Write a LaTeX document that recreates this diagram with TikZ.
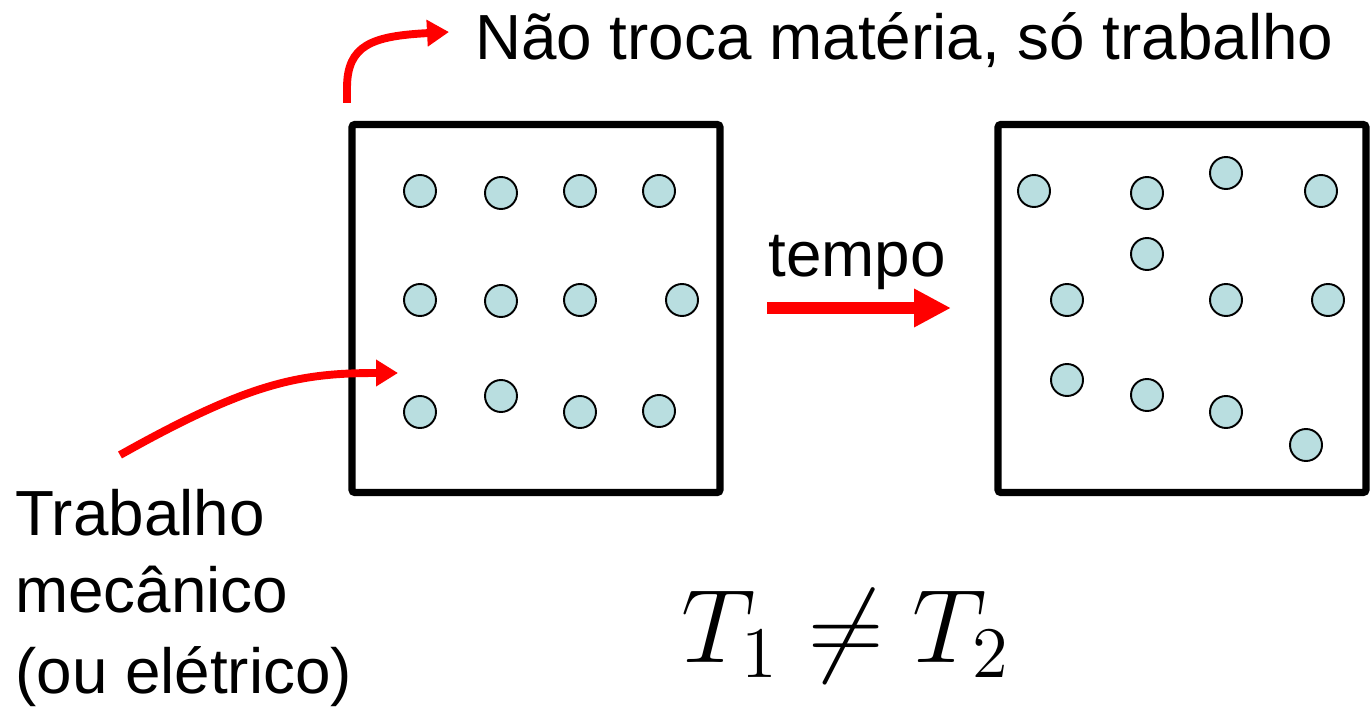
\documentclass[tikz,border=0pt]{standalone}
\usepackage{amsmath}
\usepackage{graphicx}
\usepackage{fontspec}
\setmainfont{Liberation Sans}
\usetikzlibrary{arrows.meta}
\definecolor{boxink}{HTML}{000000}
\definecolor{particle}{HTML}{B9DEE0}
\definecolor{workred}{HTML}{FF0000}

\begin{document}
\begin{tikzpicture}[
  x=0.02cm,
  y=-0.02cm,
  every node/.style={font=\fontsize{36.3}{44}\selectfont, inner sep=0pt},
  container/.style={draw=boxink, line width=4pt, rounded corners=1.5pt},
  molecule/.style={draw=boxink, fill=particle, line width=1.1pt},
  workarrow/.style={draw=workred, line width=4.5pt,
    -{Triangle[length=12.5pt, width=14.5pt]}},
  timearrow/.style={draw=workred, line width=6.8pt,
    -{Triangle[length=21pt, width=20.5pt]}}
]
  \useasboundingbox (0,0) rectangle (1370,716);

  % the two containers
  \draw[container] (352,124.5) rectangle (720,492.5);
  \draw[container] (998,124.5) rectangle (1366,492.5);

  % molecules before
  \foreach \px/\py in {420/191, 501/193, 580/191, 659/191,
                       420/300, 501/301, 580/300, 682/300,
                       420/412, 501/396, 580/412, 659/411}
    \draw[molecule] (\px,\py) circle (16);

  % molecules after
  \foreach \px/\py in {1034/191, 1147/193, 1226/173, 1321/191,
                       1147/254, 1067/300, 1226/300, 1328/300,
                       1067/380, 1147/395, 1226/412, 1306/445}
    \draw[molecule] (\px,\py) circle (16);

  % labels
  \node[anchor=base west] (closed) at (475,60) {Não troca matéria, só trabalho};
  \node[anchor=base west] (tempo) at (768,277) {tempo};
  \node[anchor=base west] (work1) at (15,535) {Trabalho};
  \node[anchor=base west] (work2) at (15,612) {mecânico};
  \node[anchor=base west] (work3) at (15,693) {(ou elétrico)};
  \node[anchor=base, font=\fontsize{20.74}{24}\selectfont] (temps) at (846,662)
    {\scalebox{2.87}{$T_1 \neq T_2$}};

  % arrows
  \coordinate (wallTop) at (347,103);
  \coordinate (closedTip) at (449,32);
  \coordinate (workTail) at (120,455);
  \coordinate (workTip) at (398,373);
  \coordinate (timeTail) at (767,308);
  \coordinate (timeTip) at (951,308);

  \draw[workarrow] (wallTop) -- (347,88)
    .. controls (347,45) and (372,36) .. (closedTip);
  \draw[workarrow] (workTail) .. controls (250,382) and (300,373) .. (workTip);
  \draw[timearrow] (timeTail) -- (timeTip);
\end{tikzpicture}
\end{document}
